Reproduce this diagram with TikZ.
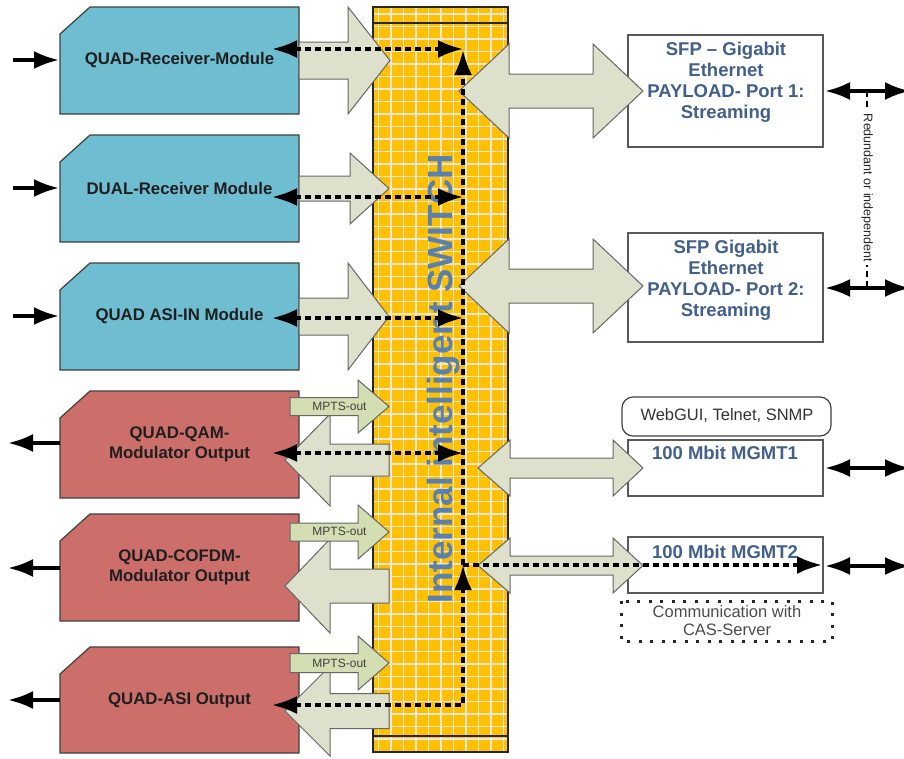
\documentclass[tikz,border=0pt]{standalone}
\usepackage{fontspec}
\setmainfont{Liberation Sans}
\usetikzlibrary{arrows.meta}
\definecolor{modblue}{HTML}{6FBDD1}
\definecolor{modred}{HTML}{CC6E6A}
\definecolor{arrowfill}{HTML}{DDE1CB}
\definecolor{mptsfill}{HTML}{D3DFB3}
\definecolor{switchfill}{HTML}{FFC000}
\definecolor{gridcol}{HTML}{EAE6DA}
\definecolor{sfpblue}{HTML}{41608C}
\definecolor{swblue}{HTML}{5A80AF}
\newcommand{\blockarr}[7]{%
  \filldraw[#1] (#2,#5-#6) -- (#3,#5-#6) -- (#3,#5-#7) -- (#4,#5) -- (#3,#5+#7) -- (#3,#5+#6) -- (#2,#5+#6) -- cycle;}
\newcommand{\dblarr}[8]{%
  \filldraw[#1] (#2,#6) -- (#3,#6-#8) -- (#3,#6-#7) -- (#4,#6-#7) -- (#4,#6-#8) -- (#5,#6) -- (#4,#6+#8) -- (#4,#6+#7) -- (#3,#6+#7) -- (#3,#6+#8) -- cycle;}
\newcommand{\modbox}[5]{%
  \filldraw[modline,fill=#2] (90,#3) -- (299,#3) -- (299,#4) -- (60,#4) -- (60,#3+27) -- cycle;
  \node[modtxt] (#1) at (179.5,{(#3+#4)/2}) {#5};}
\begin{document}
\begin{tikzpicture}[x=1pt,y=-1pt,
  >={Latex[length=25pt,width=18pt]},
  modline/.style={draw=black!75,line width=1.2pt},
  modtxt/.style={font=\fontsize{16.8}{20}\selectfont\bfseries,text=black!88,align=center},
  blk/.style={fill=arrowfill,draw=black!60,line width=1pt},
  mpts/.style={fill=mptsfill,draw=black!60,line width=1pt},
  boxline/.style={draw=black!65,line width=1.5pt,fill=white},
  bluetxt/.style={font=\fontsize{18.5}{21}\selectfont\bfseries,text=sfpblue,align=center},
  plaintxt/.style={font=\fontsize{16.5}{18}\selectfont,text=black!80,align=center},
  smalltxt/.style={font=\fontsize{12}{14}\selectfont,text=black!75},
  swtxt/.style={font=\fontsize{35}{40}\selectfont\bfseries,text=swblue},
  gridln/.style={draw=gridcol,line width=1.2pt},
  swline/.style={draw=black!85,line width=1.4pt},
  dsh/.style={line width=3.4pt,dash pattern=on 6pt off 4pt},
  sol/.style={line width=3.6pt}
]
\useasboundingbox (0,0) rectangle (904,758);
% ---------------- switch
\fill[switchfill] (373,7) rectangle (508,752);
\begin{scope}
  \clip (373,7) rectangle (508,752);
  \foreach \gx in {378.5,391,...,508} \draw[gridln] (\gx,7) -- (\gx,752);
  \foreach \gy in {14,26.5,...,752} \draw[gridln] (373,\gy) -- (508,\gy);
\end{scope}
\draw[swline] (373,7) rectangle (508,752);
\draw[swline] (373,23) -- (508,23);
\draw[swline] (373,736) -- (508,736);
\node[swtxt,rotate=90,anchor=base] (swtext) at (452,379) {Internal intelligent SWITCH};
% ---------------- modules
\modbox{m1}{modblue}{7}{114}{QUAD-Receiver-Module}
\modbox{m2}{modblue}{135}{242}{DUAL-Receiver Module}
\modbox{m3}{modblue}{263}{370}{QUAD ASI-IN Module}
\modbox{m4}{modred}{391}{498}{QUAD-QAM-\\Modulator Output}
\modbox{m5}{modred}{514}{621}{QUAD-COFDM-\\Modulator Output}
\modbox{m6}{modred}{647}{753}{QUAD-ASI Output}
% ---------------- right boxes
\draw[boxline] (628,35) rectangle (823,147);
\draw[boxline] (628,233) rectangle (823,342);
\draw[boxline] (628,440) rectangle (823,496);
\draw[boxline] (628,537) rectangle (823,593);
\draw[draw=black!75,line width=1.2pt,fill=white,rounded corners=11pt] (622,397) rectangle (831,436);
\draw[draw=black!85,line width=3pt,dash pattern=on 3pt off 8.5pt] (621,601) rectangle (832,641);
% ---------------- block arrows
\blockarr{blk}{299}{348}{390}{60.5}{18.5}{53.5}
\blockarr{blk}{299}{350}{389}{188.5}{12.5}{35.5}
\blockarr{blk}{299}{348}{389}{316.5}{18.5}{53.5}
\blockarr{blk}{389}{330}{285}{460}{16}{46}
\blockarr{blk}{389}{330}{285}{586}{17}{47}
\blockarr{blk}{389}{330}{285}{711}{17.5}{45}
\blockarr{mpts}{290}{358}{389}{406.5}{9}{26.5}
\blockarr{mpts}{290}{358}{389}{532}{9}{27}
\blockarr{mpts}{290}{358}{389}{663}{9.5}{27}
\dblarr{blk}{459}{509}{593}{643}{91}{17}{47}
\dblarr{blk}{459}{509}{593}{643}{286}{17}{47}
\dblarr{blk}{478}{510}{613}{643}{468}{10}{28}
\dblarr{blk}{478}{510}{613}{643}{565.5}{9.5}{27.5}
% ---------------- texts
\node[smalltxt] (mp1) at (339.5,406) {MPTS-out};
\node[smalltxt] (mp2) at (339.5,531.5) {MPTS-out};
\node[smalltxt] (mp3) at (339.5,663) {MPTS-out};
\node[bluetxt] (sfp1) at (726,82) {SFP -- Gigabit\\Ethernet\\PAYLOAD- Port 1:\\Streaming};
\node[bluetxt] (sfp2) at (726,280.5) {SFP Gigabit\\Ethernet\\PAYLOAD- Port 2:\\Streaming};
\node[bluetxt] (mg1) at (725,453) {100 Mbit MGMT1};
\node[bluetxt] (mg2) at (725,552) {100 Mbit MGMT2};
\node[plaintxt] (web) at (727,416) {WebGUI, Telnet, SNMP};
\node[plaintxt,text=black!70] (cas) at (727,621) {Communication with\\CAS-Server};
% ---------------- dashed connectors
\coordinate (d1l) at (272,49);  \coordinate (d1r) at (463,49);
\coordinate (d2l) at (272,197); \coordinate (d2r) at (463,197);
\coordinate (d3l) at (272,318); \coordinate (d3r) at (463,318);
\coordinate (d4l) at (272,453); \coordinate (d4r) at (463,453);
\coordinate (d5l) at (272,705); \coordinate (d5c) at (463,705);
\coordinate (vj) at (463,565);  \coordinate (vtop) at (463,50);
\coordinate (mg2r) at (822,565);
\draw[dsh,<->] (d1l) -- (d1r);
\draw[dsh,<->] (d2l) -- (d2r);
\draw[dsh,<->] (d3l) -- (d3r);
\draw[dsh,<->] (d4l) -- (d4r);
\draw[dsh,<->] (d5l) -- (d5c) -- (vj);
\draw[dsh,->] (vj) -- (vtop);
\draw[dsh,->] (vj) -- (mg2r);
% ---------------- solid arrows
\coordinate (i1) at (13,60);  \coordinate (i1e) at (59,60);
\coordinate (i2) at (13,188); \coordinate (i2e) at (59,188);
\coordinate (i3) at (13,316); \coordinate (i3e) at (59,316);
\coordinate (o1) at (60,443); \coordinate (o1e) at (8,443);
\coordinate (o2) at (60,568); \coordinate (o2e) at (8,568);
\coordinate (o3) at (60,700); \coordinate (o3e) at (8,700);
\draw[sol,->] (i1) -- (i1e);
\draw[sol,->] (i2) -- (i2e);
\draw[sol,->] (i3) -- (i3e);
\draw[sol,->] (o1) -- (o1e);
\draw[sol,->] (o2) -- (o2e);
\draw[sol,->] (o3) -- (o3e);
\coordinate (r1a) at (825,91);  \coordinate (r1b) at (910,91);
\coordinate (r2a) at (825,288); \coordinate (r2b) at (910,288);
\coordinate (r3a) at (825,468); \coordinate (r3b) at (910,468);
\coordinate (r4a) at (825,566); \coordinate (r4b) at (910,566);
\draw[sol,<->] (r1a) -- (r1b);
\draw[sol,<->] (r2a) -- (r2b);
\draw[sol,<->] (r3a) -- (r3b);
\draw[sol,<->] (r4a) -- (r4b);
% redundant link
\coordinate (rd1) at (867,91); \coordinate (rd2) at (867,288);
\draw[line width=2.6pt,dash pattern=on 6pt off 4pt] (rd1) -- (rd2);
\node[fill=white,inner sep=3pt,rotate=-90,font=\fontsize{12.5}{14}\selectfont,text=black!85] (red) at (867,188) {Redundant or independent};
\end{tikzpicture}
\end{document}
